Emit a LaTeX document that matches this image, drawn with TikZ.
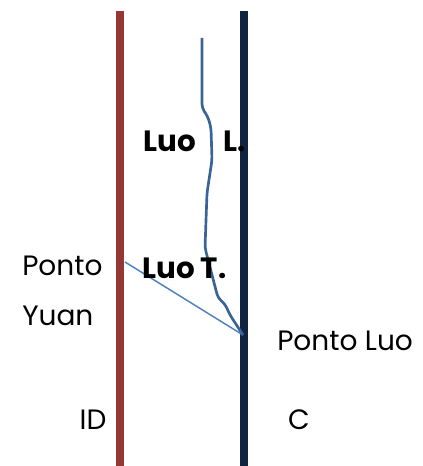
\documentclass[tikz,border=0pt]{standalone}
\usepackage{fontspec}
\setmainfont{Poppins}
\definecolor{idred}{HTML}{953735}
\definecolor{cnavy}{HTML}{0F243E}
\definecolor{meridian}{HTML}{3A6397}
\definecolor{linkblue}{HTML}{4F81BD}
\tikzset{
  vessel/.style={line width=6pt},
  label/.style={inner sep=0pt, font=\fontsize{21}{37}\selectfont},
  luolabel/.style={label, font=\fontsize{22}{33}\selectfont\bfseries}
}
\begin{document}
\begin{tikzpicture}[x=0.75pt,y=-0.75pt]
                \useasboundingbox (0,0) rectangle (423,466);
                \coordinate (idtop) at (120,11);
                \coordinate (idbot) at (120,466);
                \coordinate (ctop) at (244,11);
                \coordinate (cbot) at (244,466);
                \coordinate (yuanpt) at (125,262);
                \coordinate (luopt) at (243,335);

                \draw[vessel, idred] (idtop) -- (idbot);
                \draw[vessel, cnavy] (ctop) -- (cbot);
                \draw[line width=1.1pt, linkblue] (yuanpt) -- (luopt);
                \draw[line width=2pt, meridian, line join=round, rounded corners=3pt]
                    (202,38) -- (202,108) -- (208,117) -- (211,128)
                    -- (212,160) -- (207,193) -- (205,248) -- (218,298) -- (225,304)
                    -- (230,315) -- (luopt);

                \node[luolabel, anchor=west] (luoL) at (143,141) {Luo\hspace{21pt}L.};
                \node[luolabel, anchor=west] (luoT) at (142,268) {Luo T.};
                \node[label, anchor=west, align=left] (pontoyuan) at (22,291) {Ponto\\Yuan};
                \node[label, anchor=west] (pontoluo) at (277,341) {Ponto Luo};
                \node[label] (id) at (93,420) {ID};
                \node[label] (c) at (299,420) {C};
            \end{tikzpicture}
\end{document}
